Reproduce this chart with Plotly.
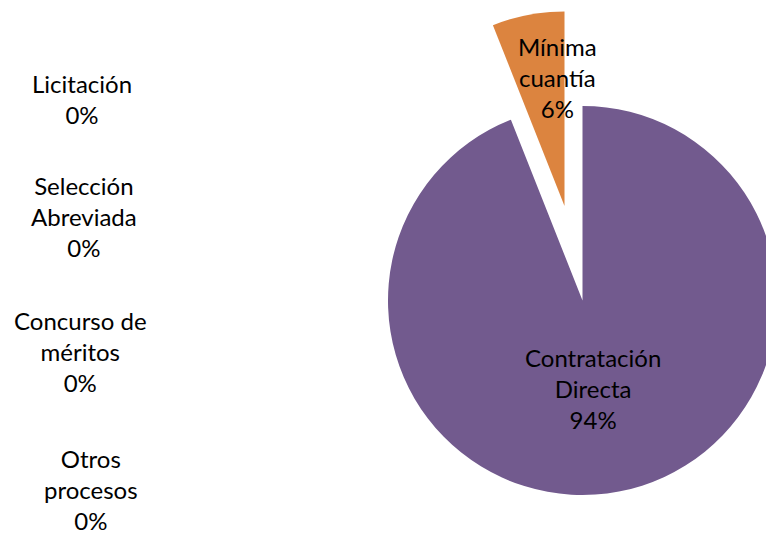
import textwrap
import plotly.graph_objects as go

categories = ["Licitación", "Selección Abreviada", "Concurso de méritos",
              "Contratación Directa", "Otros procesos", "Mínima cuantía"]
values = [0, 0, 0, 94, 0, 6]

W, H = 778, 537
FONT = dict(family="Lato", size=24, color="#000000")
PURPLE = "#725A8E"
ORANGE = "#DC843F"
EXPLODED = "Mínima cuantía"

total = sum(values)

def label(cat, val):
    lines = textwrap.wrap(cat, 11, break_long_words=False)
    return "<br>".join(lines + [f"{round(100 * val / total):.0f}%"])

R = 194.5

def dom(cx, cy):
    return dict(x=[(cx - R) / W, (cx + R) / W], y=[1 - (cy + R) / H, 1 - (cy - R) / H])

fig = go.Figure()
# main pie (exploded slice hidden here)
fig.add_trace(go.Pie(
    labels=categories, values=values, sort=False, direction="clockwise", rotation=0,
    marker=dict(colors=[PURPLE if c == "Contratación Directa" else "rgba(0,0,0,0)" for c in categories],
                line=dict(width=0)),
    textinfo="none", hoverinfo="label+percent", showlegend=False,
    domain=dom(582.5, 300.5),
))
# exploded slice
fig.add_trace(go.Pie(
    labels=categories, values=values, sort=False, direction="clockwise", rotation=0,
    marker=dict(colors=[ORANGE if c == EXPLODED else "rgba(0,0,0,0)" for c in categories],
                line=dict(width=0)),
    textinfo="none", hoverinfo="label+percent", showlegend=False,
    domain=dom(564.5, 206),
))

# label positions (pixels): center x, center y
label_pos = {
    "Licitación": (82, 99),
    "Selección Abreviada": (84, 217),
    "Concurso de méritos": (80, 351),
    "Otros procesos": (91, 489),
    "Contratación Directa": (593, 388),
    "Mínima cuantía": (557, 77),
}
annotations = []
for c, v in zip(categories, values):
    x, y = label_pos[c]
    annotations.append(dict(
        x=x / W, y=1 - y / H, xref="paper", yref="paper", text=label(c, v),
        showarrow=False, font=FONT, align="center", xanchor="center", yanchor="middle",
        borderpad=0,
    ))

fig.update_layout(
    width=W, height=H, margin=dict(l=0, r=0, t=0, b=0),
    paper_bgcolor="white", plot_bgcolor="white",
    annotations=annotations, showlegend=False,
)
fig.write_html("out.html", config={"displayModeBar": False},
               post_script="document.body.style.margin='0';document.body.style.overflow='hidden';")
